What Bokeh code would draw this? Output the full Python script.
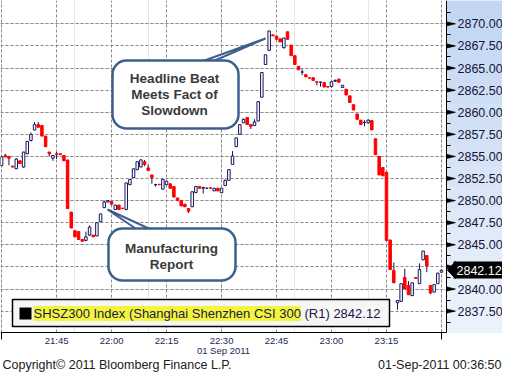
from bokeh.plotting import figure
from bokeh.models import (FixedTicker, Label, BoxAnnotation, PolyAnnotation, Range1d,
                          PrintfTickFormatter, ColumnDataSource, LinearAxis, Grid)
from bokeh.embed import file_html
from bokeh.resources import INLINE

# ---- data: one-minute candles, SHSZ300, 21:30 .. 23:30 (minute index) ----
OPEN = [2853.96, 2855.1, 2855.0, 2853.9, 2853.6, 2854.5, 2853.8, 2855.3, 2856.8, 2858.0,
        2858.6, 2858.5, 2857.3, 2855.5, 2854.8, 2855.3, 2855.3, 2855.1, 2854.6, 2848.7,
        2846.6, 2846.5, 2845.6, 2845.5, 2846.1, 2846.1, 2846.0, 2847.6, 2849.2, 2849.85,
        2849.9, 2849.0, 2849.5, 2849.15, 2849.0, 2851.8, 2852.6, 2853.5, 2853.8, 2854.4,
        2853.7, 2852.9, 2851.8, 2851.85, 2851.3, 2851.8, 2851.9, 2851.6, 2850.3, 2850.0,
        2849.6, 2849.1, 2849.3, 2850.9, 2851.6, 2851.4, 2851.4, 2851.45, 2851.1, 2851.4,
        2850.9, 2851.7, 2852.3, 2854.1, 2856.1, 2857.5, 2858.8, 2859.4, 2858.6, 2858.5,
        2859.0, 2861.7, 2865.4, 2867.0, 2868.75, 2868.6, 2868.3, 2867.3, 2869.1, 2867.6,
        2866.4, 2865.2, 2864.55, 2864.25, 2863.9, 2863.9, 2863.45, 2863.4, 2863.35, 2862.9,
        2862.9, 2863.5, 2863.75, 2862.8, 2862.6, 2861.85, 2860.85, 2859.8, 2859.1, 2858.85,
        2858.8, 2859.05, 2857.0, 2855.0, 2853.75, 2853.2, 2845.55, 2842.1, 2838.45, 2838.6,
        2841.3, 2840.4, 2839.25, 2841.3, 2840.6, 2843.3, 2843.8, 2840.4, 2839.65, 2840.6,
        2841.9]
HIGH = [2855.0, 2855.3, 2855.0, 2853.95, 2854.8, 2854.5, 2855.5, 2856.7, 2857.7, 2858.9,
        2858.9, 2858.5, 2857.3, 2855.5, 2855.1, 2855.5, 2855.3, 2855.1, 2854.6, 2848.7,
        2846.6, 2846.5, 2845.6, 2846.5, 2847.2, 2846.1, 2847.5, 2848.5, 2850.0, 2850.05,
        2849.95, 2849.5, 2849.5, 2849.15, 2852.0, 2852.4, 2853.6, 2854.4, 2854.7, 2854.6,
        2854.1, 2852.9, 2851.9, 2851.85, 2852.4, 2852.2, 2851.9, 2851.6, 2850.3, 2850.0,
        2849.6, 2849.1, 2851.0, 2851.6, 2851.6, 2851.5, 2851.45, 2851.45, 2851.4, 2851.4,
        2851.4, 2852.4, 2853.5, 2855.6, 2857.1, 2858.6, 2859.3, 2859.4, 2858.6, 2859.2,
        2861.2, 2864.5, 2866.5, 2869.2, 2868.8, 2868.6, 2868.3, 2868.4, 2869.1, 2867.6,
        2866.4, 2865.2, 2864.85, 2864.3, 2863.9, 2863.9, 2863.5, 2863.45, 2863.35, 2862.9,
        2863.5, 2863.7, 2863.75, 2863.05, 2862.6, 2861.85, 2860.85, 2859.8, 2859.1, 2859.1,
        2859.2, 2859.05, 2857.0, 2855.0, 2853.75, 2853.2, 2845.55, 2843.0, 2838.7, 2840.6,
        2842.3, 2840.9, 2840.7, 2841.3, 2842.9, 2844.3, 2843.8, 2840.4, 2840.5, 2841.8,
        2842.2]
LOW = [2853.9, 2854.9, 2854.0, 2853.75, 2853.6, 2854.2, 2853.7, 2855.3, 2856.7, 2857.95,
       2858.3, 2857.3, 2856.1, 2855.0, 2854.5, 2854.7, 2855.2, 2854.5, 2849.1, 2846.9,
       2845.9, 2845.6, 2845.4, 2845.4, 2846.0, 2845.9, 2846.0, 2847.6, 2849.2, 2849.8,
       2849.5, 2849.0, 2849.0, 2849.1, 2848.9, 2851.8, 2852.6, 2853.5, 2853.8, 2853.9,
       2853.4, 2851.9, 2851.6, 2851.8, 2851.3, 2851.8, 2851.4, 2850.4, 2850.0, 2849.4,
       2849.3, 2848.6, 2849.3, 2850.9, 2851.4, 2850.8, 2851.35, 2851.4, 2851.1, 2851.1,
       2850.9, 2851.7, 2852.3, 2854.1, 2856.1, 2857.5, 2858.8, 2858.6, 2858.1, 2858.5,
       2859.0, 2861.7, 2865.4, 2867.0, 2868.6, 2868.25, 2867.95, 2867.2, 2868.25, 2866.4,
       2865.4, 2864.8, 2864.2, 2864.0, 2863.85, 2863.6, 2863.05, 2862.9, 2862.85, 2862.8,
       2862.8, 2863.5, 2863.4, 2862.8, 2861.95, 2861.1, 2860.25, 2859.2, 2858.6, 2858.4,
       2858.7, 2858.0, 2855.2, 2852.9, 2852.8, 2845.5, 2842.2, 2840.7, 2837.65, 2838.6,
       2840.0, 2839.35, 2839.25, 2841.2, 2840.6, 2843.3, 2841.9, 2839.4, 2839.65, 2840.6,
       2841.9]
CLOSE = [2854.96, 2854.95, 2854.8, 2853.8, 2854.7, 2854.2, 2855.5, 2856.7, 2857.5, 2858.6,
         2858.3, 2857.3, 2856.1, 2855.3, 2855.1, 2855.2, 2855.2, 2854.5, 2849.1, 2846.9,
         2845.9, 2845.6, 2845.4, 2845.9, 2847.0, 2845.9, 2847.5, 2848.5, 2849.85, 2850.0,
         2849.6, 2849.5, 2849.0, 2849.1, 2852.0, 2852.4, 2853.6, 2854.4, 2854.6, 2854.1,
         2853.4, 2852.6, 2851.8, 2851.8, 2852.4, 2852.2, 2851.4, 2850.4, 2850.0, 2849.4,
         2849.3, 2848.8, 2851.0, 2851.6, 2851.4, 2851.5, 2851.4, 2851.4, 2851.4, 2851.1,
         2851.4, 2852.3, 2853.5, 2855.05, 2857.1, 2858.6, 2859.2, 2858.6, 2858.4, 2858.9,
         2861.2, 2864.5, 2866.5, 2869.2, 2868.65, 2868.25, 2867.95, 2868.4, 2868.25, 2866.4,
         2865.4, 2864.8, 2864.55, 2864.0, 2863.85, 2863.6, 2863.4, 2863.4, 2862.85, 2862.85,
         2863.45, 2863.6, 2863.4, 2863.05, 2861.95, 2861.1, 2860.25, 2859.2, 2858.6, 2858.85,
         2859.1, 2858.0, 2855.2, 2852.9, 2852.8, 2845.5, 2842.2, 2840.7, 2838.7, 2840.6,
         2840.0, 2839.35, 2840.7, 2841.2, 2842.2, 2844.3, 2842.6, 2839.55, 2840.5, 2841.8,
         2842.12]
MINUTE = list(range(len(OPEN)))          # minutes after 21:30

X_TICKS = [0, 15, 30, 45, 60, 75, 90, 105, 120]
X_TICK_LABELS = ["", "21:45", "22:00", "22:15", "22:30", "22:45", "23:00", "23:15", ""]
X_EDGE_TICKS = [0, 120]
Y_TICKS = [2837.5, 2840.0, 2842.5, 2845.0, 2847.5, 2850.0, 2852.5, 2855.0,
           2857.5, 2860.0, 2862.5, 2865.0, 2867.5, 2870.0]
Y_MINOR_TICKS = [2836.25, 2838.75, 2841.25, 2843.75, 2846.25, 2848.75, 2851.25,
                 2853.75, 2856.25, 2858.75, 2861.25, 2863.75, 2866.25, 2868.75, 2871.25]
LAST_PRICE = 2842.12
DATE_LABEL = "01 Sep 2011"
LEGEND_NAME = "SHSZ300 Index (Shanghai Shenzhen CSI 300"
LEGEND_TAIL = "(R1) 2842.12"
COPYRIGHT = "Copyright\u00a9 2011 Bloomberg Finance L.P."
STAMP = "01-Sep-2011 00:36:50"
CALLOUT_1 = ["Headline Beat", "Meets Fact of", "Slowdown"]
CALLOUT_2 = ["Manufacturing", "Report"]

# ---- layout: the frame covers the whole canvas; axes sit at fixed locations ----
W, H = 502, 372
REF_FW, REF_FH = 445.0, 332.0          # plotting area of the reference picture (px)
REF_X = (-0.3, 121.1)                  # minutes across that plotting area
REF_Y = (2835.08, 2872.64)             # values down that plotting area


def dx(px):
    return REF_X[0] + px / REF_FW * (REF_X[1] - REF_X[0])


def dy(py):
    return REF_Y[1] - py / REF_FH * (REF_Y[1] - REF_Y[0])


X_RANGE = (dx(0), dx(W))
Y_RANGE = (dy(H), dy(0))
AXIS_X = dx(446)
AXIS_Y = dy(332)

NAVY = "#15155a"
RED = "#ff0000"
CALLOUT_LINE = "#3d5f8c"
FONT = "Liberation Sans"

p = figure(width=W, height=H, x_range=Range1d(*X_RANGE), y_range=Range1d(*Y_RANGE),
           x_axis_location=None, y_axis_location=None, toolbar_location=None,
           output_backend="svg", min_border=0)
p.outline_line_color = None
p.background_fill_color = "white"
p.border_fill_color = "white"

xt = FixedTicker(ticks=X_TICKS, minor_ticks=X_EDGE_TICKS)
yt = FixedTicker(ticks=Y_TICKS, minor_ticks=Y_MINOR_TICKS)

for dim, tk in ((0, xt), (1, yt)):
    p.add_layout(Grid(dimension=dim, ticker=tk, grid_line_color="#8a8a8a",
                      grid_line_dash="3 2", grid_line_width=1))

# blue side panel (vertical gradient) and white footer, drawn over the grid
n_bands = 16
c0, c1 = (0xc3, 0xd7, 0xf3), (0xec, 0xf2, 0xfb)
for i in range(n_bands):
    t = i / (n_bands - 1)
    col = "#%02x%02x%02x" % tuple(int(a + (b - a) * t) for a, b in zip(c0, c1))
    p.add_layout(BoxAnnotation(left=AXIS_X, right=dx(W + 10),
                               top=dy(332 * i / n_bands - (1 if i == 0 else 0)),
                               bottom=dy(332 * (i + 1) / n_bands + 0.5),
                               fill_color=col, fill_alpha=1, line_color=None,
                               level="underlay"))
p.add_layout(BoxAnnotation(left=dx(-10), right=AXIS_X, top=AXIS_Y, bottom=dy(H + 10),
                           fill_color="white", fill_alpha=1, line_color=None,
                           level="underlay"))

# axes
xa = LinearAxis(ticker=xt, fixed_location=AXIS_Y, bounds=(X_RANGE[0], AXIS_X))
xa.major_label_overrides = {t: l for t, l in zip(X_TICKS, X_TICK_LABELS)}
xa.major_tick_out = 0
xa.major_tick_in = 0
xa.minor_tick_out = 7
xa.minor_tick_in = 0
xa.minor_tick_line_color = "black"
xa.axis_line_color = "black"
xa.major_label_standoff = -5
xa.major_label_text_font = FONT
xa.major_label_text_font_size = "9.5px"
xa.major_label_text_color = "#1c2858"
p.add_layout(xa, "below")

ya = LinearAxis(ticker=yt, fixed_location=AXIS_X, bounds=(AXIS_Y, Y_RANGE[1]),
                formatter=PrintfTickFormatter(format="%.2f"))
ya.axis_line_color = "black"
ya.major_tick_out = 8
ya.major_tick_in = 0
ya.major_tick_line_width = 1
ya.major_tick_line_color = "black"
ya.minor_tick_out = 4
ya.minor_tick_in = 0
ya.minor_tick_line_color = "black"
ya.major_label_standoff = 3
ya.major_label_text_font = FONT
ya.major_label_text_font_size = "12.5px"
ya.major_label_text_color = "#14143a"
p.add_layout(ya, "right")

# arrow-shaped tick marks
for v in Y_TICKS:
    p.add_layout(PolyAnnotation(xs=[AXIS_X, dx(455), AXIS_X],
                                ys=[v + 0.25, v, v - 0.25],
                                fill_color="black", fill_alpha=1, line_color="black",
                                line_alpha=1, line_width=0.5))

# date under the time axis
p.add_layout(Label(x=dx(223), y=dy(350), text=DATE_LABEL, text_align="center",
                   text_baseline="middle", text_font=FONT, text_font_size="9.5px",
                   text_color="#1c2858"))

# candles
up = [c >= o for o, c in zip(OPEN, CLOSE)]
src_all = ColumnDataSource(dict(x=MINUTE, high=HIGH, low=LOW))
src_up = ColumnDataSource(dict(
    x=[m for m, u in zip(MINUTE, up) if u],
    top=[c for c, u in zip(CLOSE, up) if u],
    bottom=[o for o, u in zip(OPEN, up) if u]))
src_dn = ColumnDataSource(dict(
    x=[m for m, u in zip(MINUTE, up) if not u],
    top=[o for o, u in zip(OPEN, up) if not u],
    bottom=[c for c, u in zip(CLOSE, up) if not u]))
p.segment(x0="x", y0="low", x1="x", y1="high", source=src_all, line_color=NAVY, line_width=1)
p.vbar(x="x", width=0.68, top="top", bottom="bottom", source=src_up,
       fill_color="white", line_color=NAVY, line_width=1)
p.vbar(x="x", width=0.68, top="top", bottom="bottom", source=src_dn,
       fill_color=RED, line_color=RED, line_width=1)


# callouts
def callout(box, tip_poly, lines, line_ys, cx):
    l, r, t, b = box
    p.add_layout(PolyAnnotation(xs=[dx(x) for x, _ in tip_poly], ys=[dy(y) for _, y in tip_poly],
                                fill_color="white", fill_alpha=1, line_color=CALLOUT_LINE,
                                line_alpha=1, line_width=2))
    p.add_layout(BoxAnnotation(left=dx(l), right=dx(r), top=dy(t), bottom=dy(b),
                               fill_color="white", fill_alpha=1, line_color=CALLOUT_LINE,
                               line_alpha=1, line_width=2.5, border_radius=14))
    for txt, yy in zip(lines, line_ys):
        p.add_layout(Label(x=dx(cx), y=dy(yy), text=txt, text_align="center",
                           text_baseline="middle", text_font=FONT, text_font_style="bold",
                           text_font_size="13.5px", text_color="#3a3a3a"))


callout((112, 238, 60, 128), [(265, 38), (193, 64), (205, 64)], CALLOUT_1, [78, 94, 110], 174)
callout((108, 235, 228, 280), [(107, 209), (141, 232), (157, 232)], CALLOUT_2, [248, 264], 171)

# legend box
p.add_layout(BoxAnnotation(left=dx(12), right=dx(389), top=dy(299), bottom=dy(326),
                           fill_color="#f6f6f6", fill_alpha=1, line_color="black",
                           line_alpha=1, line_width=1.5))
p.add_layout(BoxAnnotation(left=dx(19), right=dx(31), top=dy(307), bottom=dy(319),
                           fill_color="black", fill_alpha=1, line_color=None))
p.add_layout(Label(x=dx(33), y=dy(313), text=LEGEND_NAME, text_baseline="middle",
                   text_font=FONT, text_font_size="13px", text_color="#1a1a48",
                   background_fill_color="#f4f43c", background_fill_alpha=1))
p.add_layout(Label(x=dx(304), y=dy(313), text=LEGEND_TAIL, text_baseline="middle",
                   text_font=FONT, text_font_size="13px", text_color="#1a1a48"))

# last price marker
p.add_layout(PolyAnnotation(xs=[dx(447), dx(455), dx(455)],
                            ys=[LAST_PRICE, dy(261), dy(278)],
                            fill_color="black", fill_alpha=1, line_color="black",
                            line_alpha=1))
p.add_layout(BoxAnnotation(left=dx(453), right=dx(W), top=dy(261), bottom=dy(278),
                           fill_color="black", fill_alpha=1, line_color=None))
p.add_layout(Label(x=dx(456), y=LAST_PRICE, text="%.2f" % LAST_PRICE, text_baseline="middle",
                   text_font=FONT, text_font_size="12.5px", text_color="white"))

# footer texts
p.add_layout(Label(x=dx(2), y=dy(364), text=COPYRIGHT, text_baseline="middle",
                   text_font=FONT, text_font_size="12.5px", text_color="#202020"))
p.add_layout(Label(x=dx(W - 1), y=dy(364), text=STAMP, text_align="right",
                   text_baseline="middle", text_font=FONT, text_font_size="12.5px",
                   text_color="#202020"))

open("out.html", "w").write(file_html(p, INLINE))
